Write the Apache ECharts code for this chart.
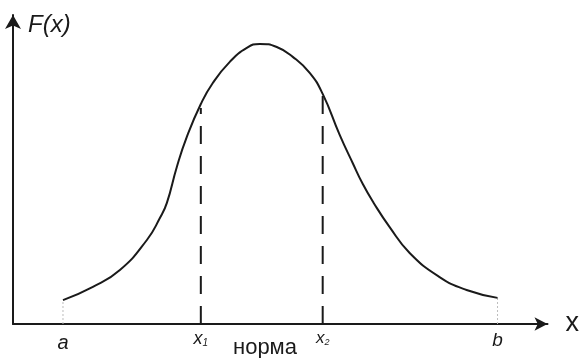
<!DOCTYPE html>
<html>
<head>
<meta charset="utf-8">
<script src="https://cdn.jsdelivr.net/npm/echarts@6/dist/echarts.min.js"></script>
<style>
  html, body { margin: 0; padding: 0; background: #fff; }
  #chart { width: 582px; height: 358px; }
</style>
</head>
<body>
<div id="chart"></div>
<script>
// Distribution density curve F(x) between the limits a and b
const curveX = [0.935, 1.495, 2.0, 2.505, 2.748, 2.879, 3.065, 3.252, 3.514, 3.738,
                4.056, 4.374, 4.617, 4.935, 5.234, 5.551, 5.794, 6.112, 6.355, 6.542, 6.748, 7.047,
                7.421, 7.981, 8.486, 9.065];
const curveF = [0.085, 0.132, 0.192, 0.299, 0.377, 0.431, 0.559, 0.666, 0.783, 0.858,
                0.933, 0.983, 0.997, 0.986, 0.951, 0.894, 0.819, 0.673, 0.573, 0.499, 0.431, 0.345,
                0.253, 0.167, 0.121, 0.093];

// Marked points on the x axis
const limitA = 0.935;
const limitB = 9.065;
const tolX = [3.514, 5.794];       // x1, x2
const tolTop = [0.769, 0.815];     // where the dashed verticals end
const tickNames = ['a', 'x1', 'x2', 'b'];
const normLabel = 'норма';

const curve = curveX.map((x, i) => [x, curveF[i]]);

const chart = echarts.init(document.getElementById('chart'), null, { renderer: 'canvas' });

const dashed = tolX.map((x, i) => ({
  type: 'line',
  data: [[x, 0], [x, tolTop[i]]],
  symbol: 'none',
  silent: true,
  lineStyle: { color: '#1a1a1a', width: 2, type: [18, 12] },
  z: 3
}));

const limits = [limitA, limitB].map((x, i) => ({
  type: 'line',
  data: [[x, 0], [x, i === 0 ? curveF[0] : curveF[curveF.length - 1]]],
  symbol: 'none',
  silent: true,
  lineStyle: { color: '#bdbdbd', width: 1, type: [2, 2] },
  z: 2
}));

chart.setOption({
  animation: false,
  backgroundColor: '#ffffff',
  grid: { left: 13, right: 34, top: 15, bottom: 34 },
  xAxis: {
    type: 'value',
    min: 0,
    max: 10,
    name: 'x',
    nameLocation: 'end',
    nameGap: 18,
    nameTextStyle: { fontFamily: 'Liberation Sans', fontSize: 27, color: '#1a1a1a', verticalAlign: 'middle', padding: [0, 0, 5, 0] },
    axisLine: {
      show: true,
      symbol: ['none', 'arrow'],
      symbolSize: [10, 13],
      lineStyle: { color: '#1a1a1a', width: 2 }
    },
    axisTick: { show: false },
    splitLine: { show: false },
    axisLabel: {
      customValues: [limitA, tolX[0], tolX[1], limitB],
      margin: 6,
      formatter: function (v) {
        if (Math.abs(v - limitA) < 1e-6) return '{it|' + tickNames[0] + '}';
        if (Math.abs(v - limitB) < 1e-6) return '{itb|' + tickNames[3] + '}';
        if (Math.abs(v - tolX[0]) < 1e-6) return '{xs|x}{sub|1}';
        return '{xs2|x}{sub2|2}';
      },
      rich: {
        it: { fontFamily: 'Liberation Sans', fontStyle: 'italic', fontSize: 20, color: '#1a1a1a', padding: [3, 0, 0, 0] },
        itb: { fontFamily: 'Liberation Sans', fontStyle: 'italic', fontSize: 19, color: '#1a1a1a', padding: [1, 0, 0, 0] },
        xs: { fontFamily: 'Liberation Sans', fontStyle: 'italic', fontSize: 18, color: '#1a1a1a' },
        sub: { fontFamily: 'Liberation Sans', fontStyle: 'italic', fontSize: 10, color: '#1a1a1a', padding: [8, 0, 0, 0] },
        xs2: { fontFamily: 'Liberation Sans', fontStyle: 'italic', fontSize: 17, color: '#1a1a1a', padding: [0, 0, 3, 0] },
        sub2: { fontFamily: 'Liberation Sans', fontStyle: 'italic', fontSize: 9, color: '#1a1a1a', padding: [5, 0, 0, 0] }
      }
    }
  },
  yAxis: {
    type: 'value',
    min: 0,
    max: 1.1,
    name: 'F(x)',
    nameLocation: 'end',
    nameGap: -10,
    nameTextStyle: {
      fontFamily: 'Liberation Sans', fontStyle: 'italic', fontSize: 24, color: '#1a1a1a',
      align: 'left', verticalAlign: 'middle', padding: [0, 0, 0, 15]
    },
    axisLine: {
      show: true,
      symbol: ['none', 'arrow'],
      symbolSize: [12, 14],
      lineStyle: { color: '#1a1a1a', width: 2 }
    },
    axisTick: { show: false },
    axisLabel: { show: false },
    splitLine: { show: false }
  },
  graphic: [{
    type: 'text',
    left: 233,
    top: 337,
    style: { text: normLabel, fontFamily: 'Liberation Sans', fontSize: 22, fill: '#1a1a1a' }
  }],
  series: [
    {
      type: 'line',
      data: curve,
      smooth: 0.5,
      symbol: 'none',
      silent: true,
      lineStyle: { color: '#1a1a1a', width: 2 },
      z: 4
    },
    ...dashed,
    ...limits
  ]
});
</script>
</body>
</html>
